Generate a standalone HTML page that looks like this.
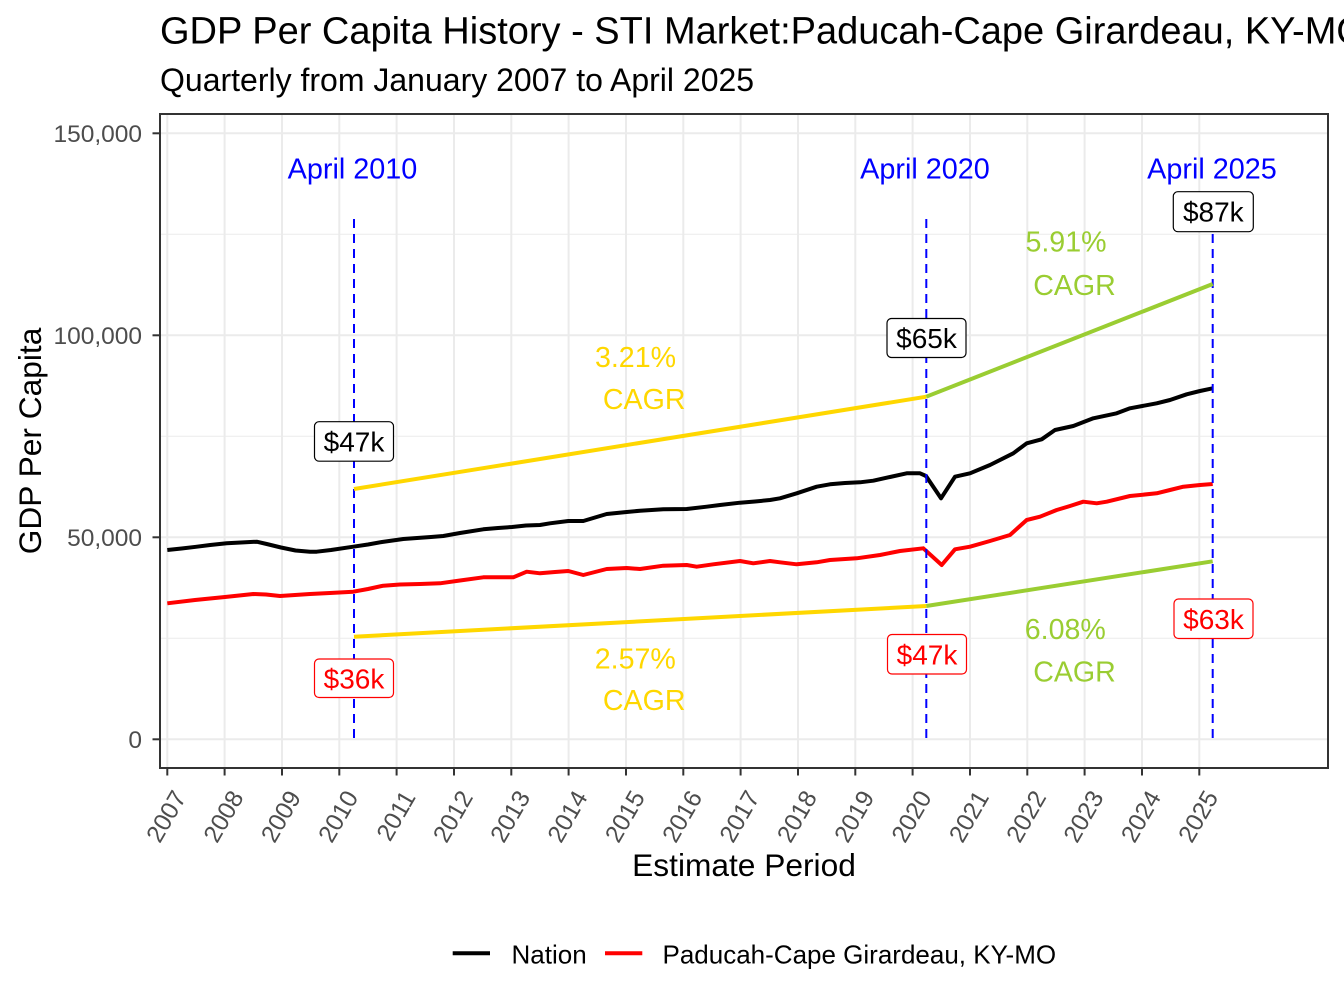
<!DOCTYPE html>
<html>
<head>
<meta charset="utf-8">
<style>
  html, body { margin: 0; padding: 0; background: #ffffff; }
  body { width: 1344px; height: 1008px; overflow: hidden; }
  svg { display: block; }
  text { font-family: "Liberation Sans", Arial, sans-serif; }
</style>
</head>
<body>
<svg width="1344" height="1008" viewBox="0 0 1344 1008" xmlns="http://www.w3.org/2000/svg">
  <rect x="0" y="0" width="1344" height="1008" fill="#ffffff"/>

  <!-- Title / subtitle -->
  <text x="160" y="43.3" font-size="38" fill="#000">GDP Per Capita History - STI Market:Paducah-Cape Girardeau, KY-MO</text>
  <text x="160" y="91" font-size="32" fill="#000">Quarterly from January 2007 to April 2025</text>

  <!-- Panel background -->
  <rect x="160" y="114" width="1168" height="654" fill="#ffffff"/>

  <!-- Minor horizontal gridlines -->
  <g stroke="#EBEBEB" stroke-width="1">
    <line x1="160" x2="1328" y1="638.3" y2="638.3"/>
    <line x1="160" x2="1328" y1="436.3" y2="436.3"/>
    <line x1="160" x2="1328" y1="234.3" y2="234.3"/>
  </g>
  <!-- Major horizontal gridlines -->
  <g stroke="#EBEBEB" stroke-width="2">
    <line x1="160" x2="1328" y1="739.3" y2="739.3"/>
    <line x1="160" x2="1328" y1="537.3" y2="537.3"/>
    <line x1="160" x2="1328" y1="335.3" y2="335.3"/>
    <line x1="160" x2="1328" y1="133.3" y2="133.3"/>
  </g>
  <!-- Major vertical gridlines -->
  <g stroke="#EBEBEB" stroke-width="2">
    <line x1="167.3" x2="167.3" y1="114" y2="768"/>
    <line x1="224.6" x2="224.6" y1="114" y2="768"/>
    <line x1="282.0" x2="282.0" y1="114" y2="768"/>
    <line x1="339.3" x2="339.3" y1="114" y2="768"/>
    <line x1="396.6" x2="396.6" y1="114" y2="768"/>
    <line x1="454.0" x2="454.0" y1="114" y2="768"/>
    <line x1="511.3" x2="511.3" y1="114" y2="768"/>
    <line x1="568.6" x2="568.6" y1="114" y2="768"/>
    <line x1="626.0" x2="626.0" y1="114" y2="768"/>
    <line x1="683.3" x2="683.3" y1="114" y2="768"/>
    <line x1="740.6" x2="740.6" y1="114" y2="768"/>
    <line x1="798.0" x2="798.0" y1="114" y2="768"/>
    <line x1="855.3" x2="855.3" y1="114" y2="768"/>
    <line x1="912.6" x2="912.6" y1="114" y2="768"/>
    <line x1="970.0" x2="970.0" y1="114" y2="768"/>
    <line x1="1027.3" x2="1027.3" y1="114" y2="768"/>
    <line x1="1084.6" x2="1084.6" y1="114" y2="768"/>
    <line x1="1142.0" x2="1142.0" y1="114" y2="768"/>
    <line x1="1199.3" x2="1199.3" y1="114" y2="768"/>
  </g>

  <!-- Series: Nation (black) -->
  <polyline fill="none" stroke="#000000" stroke-width="4" stroke-linejoin="round" stroke-linecap="butt"
    points="167.3,550 181.6,548.5 195.9,546.8 210.2,545 226.7,543.3 241,542.5 256.7,541.7 266.7,544 281,547.5 295.5,550.5 310,551.7 316.7,551.7 331,550 353.3,546.7 368,544.5 382,542 403.3,539 417,538 431,537 443.3,536 460,533 483.3,529.3 498,528 512,527 526,525.5 540,525 550,523.3 568.3,521 583.3,521 595,517.5 606.7,514 626.7,512 640,510.7 663.3,509.3 686.7,509 706.7,506.7 720,505 740,502.7 755,501.5 770,500 780,498.3 796.7,493.3 816.7,486.7 830,484.3 845,483 860,482.3 873.3,480.7 890,477 906.7,473.3 920,473.3 926,476 941,498.3 955,476.7 970,473.3 990,465 1013.3,453.3 1026.7,443.3 1041.7,439.3 1055,430 1073.3,426 1093.3,418.3 1116.7,413.3 1130,408.3 1156.7,403.3 1170,400 1186.7,394.3 1200,391 1212.7,388.3"/>

  <!-- Series: Paducah (red) -->
  <polyline fill="none" stroke="#FF0000" stroke-width="4" stroke-linejoin="round" stroke-linecap="butt"
    points="167.3,603.3 195,600 225,597 253.3,594 266,594.5 280,596 295,595 310,594 330,593 353.3,591.7 368,589 383.3,585.7 400,584.5 420,584 440,583.3 460,580.5 483.3,577.3 498,577.3 513.3,577.3 526.7,571.7 540,573.3 555,572 568.3,571 583.3,575 595,572 606.7,569 626.7,568 640,569 663.3,565.7 686.7,565 696.7,566.7 713.3,564.3 740,561 753.3,563.3 770,561 780,562.3 796.7,564.3 816.7,562.3 830,560 856.7,558.3 880,555 900,551 923.3,548.3 941.7,565 955,549.3 970,546.7 990,541 1010,535 1026.7,520 1040,516.7 1056.7,510 1070,506 1083.3,501.7 1096.7,503.3 1106.7,501.7 1130,496 1156.7,493.3 1170,490 1183.3,486.7 1200,485 1212.7,484"/>

  <!-- Dashed vertical lines -->
  <g stroke="#0000FF" stroke-width="2" stroke-dasharray="9 6">
    <line x1="354" x2="354" y1="219" y2="739.3"/>
    <line x1="926.3" x2="926.3" y1="219" y2="739.3"/>
    <line x1="1212.7" x2="1212.7" y1="219" y2="739.3"/>
  </g>

  <!-- CAGR segments -->
  <g stroke-width="4" stroke-linecap="butt">
    <line x1="354" y1="489" x2="926.3" y2="396.7" stroke="#FFD700"/>
    <line x1="926.3" y1="396.7" x2="1212.7" y2="284" stroke="#9ACD32"/>
    <line x1="354" y1="636.7" x2="926.3" y2="606" stroke="#FFD700"/>
    <line x1="926.3" y1="606" x2="1212.7" y2="561.3" stroke="#9ACD32"/>
  </g>

  <!-- Blue date annotations -->
  <g font-size="28.8" fill="#0000FF" text-anchor="middle">
    <text x="352.5" y="178.3">April 2010</text>
    <text x="925" y="178.3">April 2020</text>
    <text x="1212" y="178.3">April 2025</text>
  </g>

  <!-- CAGR annotations -->
  <g font-size="28.6" text-anchor="middle">
    <text x="635.5" y="367" fill="#FFD700">3.21%</text>
    <text x="644.2" y="409" fill="#FFD700">CAGR</text>
    <text x="635.3" y="668.3" fill="#FFD700">2.57%</text>
    <text x="644.2" y="710" fill="#FFD700">CAGR</text>
    <text x="1066" y="251.7" fill="#9ACD32">5.91%</text>
    <text x="1074.5" y="295" fill="#9ACD32">CAGR</text>
    <text x="1065.3" y="639" fill="#9ACD32">6.08%</text>
    <text x="1074.5" y="681.7" fill="#9ACD32">CAGR</text>
  </g>

  <!-- Value labels -->
  <g font-size="28" text-anchor="middle">
    <rect x="314.5" y="421.7" width="79" height="39.5" rx="4.5" fill="#fff" stroke="#000" stroke-width="1.2"/>
    <text x="354" y="451.5" fill="#000">$47k</text>

    <rect x="887" y="318.5" width="79" height="39" rx="4.5" fill="#fff" stroke="#000" stroke-width="1.2"/>
    <text x="926.5" y="348" fill="#000">$65k</text>

    <rect x="1173.3" y="191.7" width="80" height="40" rx="4.5" fill="#fff" stroke="#000" stroke-width="1.2"/>
    <text x="1213.3" y="221.7" fill="#000">$87k</text>

    <rect x="314.5" y="659" width="79" height="38.5" rx="4.5" fill="#fff" stroke="#FF0000" stroke-width="1.2"/>
    <text x="354" y="688.5" fill="#FF0000">$36k</text>

    <rect x="887.5" y="634.5" width="79" height="39.5" rx="4.5" fill="#fff" stroke="#FF0000" stroke-width="1.2"/>
    <text x="927" y="664.3" fill="#FF0000">$47k</text>

    <rect x="1174" y="599" width="79" height="39.5" rx="4.5" fill="#fff" stroke="#FF0000" stroke-width="1.2"/>
    <text x="1213.5" y="628.8" fill="#FF0000">$63k</text>
  </g>

  <!-- Panel border -->
  <rect x="160" y="114" width="1168" height="654" fill="none" stroke="#333333" stroke-width="2"/>

  <!-- Y ticks -->
  <g stroke="#333333" stroke-width="2">
    <line x1="152.5" x2="160" y1="739.3" y2="739.3"/>
    <line x1="152.5" x2="160" y1="537.3" y2="537.3"/>
    <line x1="152.5" x2="160" y1="335.3" y2="335.3"/>
    <line x1="152.5" x2="160" y1="133.3" y2="133.3"/>
  </g>
  <g font-size="24.5" fill="#4D4D4D" text-anchor="end">
    <text x="142" y="748">0</text>
    <text x="142" y="546">50,000</text>
    <text x="142" y="344">100,000</text>
    <text x="142" y="142">150,000</text>
  </g>

  <!-- X ticks -->
  <g stroke="#333333" stroke-width="2">
    <line x1="167.3" x2="167.3" y1="768" y2="775.5"/>
    <line x1="224.6" x2="224.6" y1="768" y2="775.5"/>
    <line x1="282.0" x2="282.0" y1="768" y2="775.5"/>
    <line x1="339.3" x2="339.3" y1="768" y2="775.5"/>
    <line x1="396.6" x2="396.6" y1="768" y2="775.5"/>
    <line x1="454.0" x2="454.0" y1="768" y2="775.5"/>
    <line x1="511.3" x2="511.3" y1="768" y2="775.5"/>
    <line x1="568.6" x2="568.6" y1="768" y2="775.5"/>
    <line x1="626.0" x2="626.0" y1="768" y2="775.5"/>
    <line x1="683.3" x2="683.3" y1="768" y2="775.5"/>
    <line x1="740.6" x2="740.6" y1="768" y2="775.5"/>
    <line x1="798.0" x2="798.0" y1="768" y2="775.5"/>
    <line x1="855.3" x2="855.3" y1="768" y2="775.5"/>
    <line x1="912.6" x2="912.6" y1="768" y2="775.5"/>
    <line x1="970.0" x2="970.0" y1="768" y2="775.5"/>
    <line x1="1027.3" x2="1027.3" y1="768" y2="775.5"/>
    <line x1="1084.6" x2="1084.6" y1="768" y2="775.5"/>
    <line x1="1142.0" x2="1142.0" y1="768" y2="775.5"/>
    <line x1="1199.3" x2="1199.3" y1="768" y2="775.5"/>
  </g>
  <g font-size="24.5" fill="#4D4D4D" text-anchor="end">
    <text transform="translate(187,797) rotate(-60)">2007</text>
    <text transform="translate(244.3,797) rotate(-60)">2008</text>
    <text transform="translate(301.7,797) rotate(-60)">2009</text>
    <text transform="translate(359,797) rotate(-60)">2010</text>
    <text transform="translate(416.3,797) rotate(-60)">2011</text>
    <text transform="translate(473.7,797) rotate(-60)">2012</text>
    <text transform="translate(531,797) rotate(-60)">2013</text>
    <text transform="translate(588.3,797) rotate(-60)">2014</text>
    <text transform="translate(645.7,797) rotate(-60)">2015</text>
    <text transform="translate(703,797) rotate(-60)">2016</text>
    <text transform="translate(760.3,797) rotate(-60)">2017</text>
    <text transform="translate(817.7,797) rotate(-60)">2018</text>
    <text transform="translate(875,797) rotate(-60)">2019</text>
    <text transform="translate(932.3,797) rotate(-60)">2020</text>
    <text transform="translate(989.7,797) rotate(-60)">2021</text>
    <text transform="translate(1047,797) rotate(-60)">2022</text>
    <text transform="translate(1104.3,797) rotate(-60)">2023</text>
    <text transform="translate(1161.7,797) rotate(-60)">2024</text>
    <text transform="translate(1219,797) rotate(-60)">2025</text>
  </g>

  <!-- Axis titles -->
  <text x="744" y="876" font-size="31.7" fill="#000" text-anchor="middle">Estimate Period</text>
  <text transform="translate(41,441) rotate(-90)" font-size="31.7" fill="#000" text-anchor="middle">GDP Per Capita</text>

  <!-- Legend -->
  <line x1="452.7" x2="490" y1="953.3" y2="953.3" stroke="#000000" stroke-width="4"/>
  <text x="511.5" y="963.5" font-size="26" fill="#000">Nation</text>
  <line x1="605" x2="642.3" y1="953.3" y2="953.3" stroke="#FF0000" stroke-width="4"/>
  <text x="662.5" y="963.5" font-size="26" fill="#000">Paducah-Cape Girardeau, KY-MO</text>
</svg>
</body>
</html>
